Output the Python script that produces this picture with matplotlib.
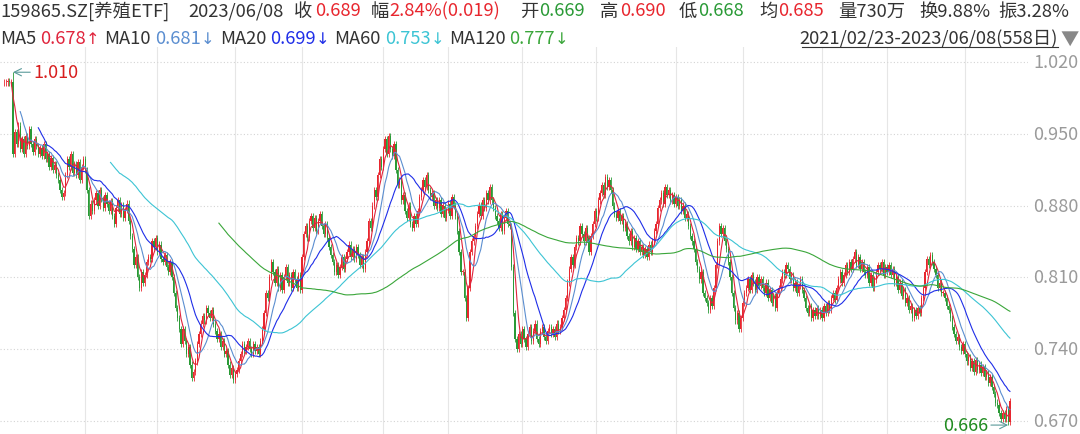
"""
159865.SZ daily K-line with moving averages
"""

import numpy as np
import pandas as pd
import matplotlib
matplotlib.use("Agg")
import matplotlib.pyplot as plt
import matplotlib.transforms as mtransforms

plt.rcParams['font.family'] = ['Noto Sans CJK SC', 'DejaVu Sans']

# ---------- Data ----------
# daily closes, 2021/02/23 .. 2023/06/08 (558 trading days)
closes = [
    1.000, 1.000, 1.001, 1.000, 1.000, 0.930, 0.952, 0.940, 0.958, 0.935,
    0.945, 0.930, 0.948, 0.938, 0.955, 0.940, 0.932, 0.945, 0.938, 0.930,
    0.936, 0.928, 0.940, 0.925, 0.930, 0.918, 0.926, 0.915, 0.920, 0.910,
    0.905, 0.895, 0.888, 0.892, 0.910, 0.925, 0.918, 0.930, 0.912, 0.920,
    0.910, 0.922, 0.905, 0.918, 0.925, 0.915, 0.895, 0.870, 0.882, 0.875,
    0.885, 0.892, 0.880, 0.895, 0.886, 0.878, 0.890, 0.882, 0.875, 0.884,
    0.870, 0.862, 0.878, 0.885, 0.872, 0.880, 0.868, 0.876, 0.882, 0.865,
    0.850, 0.838, 0.822, 0.830, 0.810, 0.800, 0.815, 0.805, 0.812, 0.825,
    0.830, 0.828, 0.845, 0.840, 0.848, 0.835, 0.842, 0.828, 0.825, 0.832,
    0.820, 0.815, 0.825, 0.810, 0.795, 0.780, 0.770, 0.760, 0.745, 0.760,
    0.748, 0.735, 0.742, 0.725, 0.712, 0.718, 0.728, 0.745, 0.755, 0.765,
    0.772, 0.768, 0.780, 0.775, 0.770, 0.778, 0.765, 0.758, 0.750, 0.755,
    0.742, 0.748, 0.735, 0.738, 0.725, 0.715, 0.722, 0.710, 0.716, 0.720,
    0.728, 0.735, 0.745, 0.738, 0.742, 0.748, 0.740, 0.735, 0.745, 0.738,
    0.742, 0.735, 0.748, 0.760, 0.775, 0.795, 0.790, 0.810, 0.825, 0.815,
    0.805, 0.818, 0.800, 0.812, 0.798, 0.810, 0.820, 0.805, 0.812, 0.800,
    0.815, 0.808, 0.800, 0.812, 0.798, 0.830, 0.852, 0.860, 0.848, 0.865,
    0.870, 0.858, 0.868, 0.855, 0.865, 0.872, 0.860, 0.852, 0.862, 0.848,
    0.840, 0.832, 0.825, 0.815, 0.822, 0.812, 0.820, 0.830, 0.818, 0.828,
    0.835, 0.842, 0.830, 0.838, 0.828, 0.840, 0.832, 0.822, 0.830, 0.818,
    0.835, 0.845, 0.865, 0.858, 0.880, 0.895, 0.888, 0.910, 0.925, 0.918,
    0.935, 0.945, 0.930, 0.948, 0.935, 0.928, 0.940, 0.915, 0.900, 0.905,
    0.885, 0.890, 0.875, 0.868, 0.880, 0.862, 0.858, 0.870, 0.862, 0.875,
    0.888, 0.895, 0.905, 0.898, 0.910, 0.895, 0.888, 0.892, 0.880, 0.885,
    0.878, 0.885, 0.872, 0.880, 0.868, 0.876, 0.882, 0.870, 0.888, 0.880,
    0.870, 0.855, 0.835, 0.815, 0.815, 0.790, 0.770, 0.800, 0.835, 0.845,
    0.850, 0.860, 0.872, 0.880, 0.870, 0.885, 0.878, 0.892, 0.885, 0.898,
    0.885, 0.878, 0.870, 0.865, 0.858, 0.872, 0.855, 0.868, 0.875, 0.862,
    0.860, 0.820, 0.775, 0.750, 0.740, 0.755, 0.745, 0.760, 0.750, 0.742,
    0.755, 0.762, 0.748, 0.758, 0.765, 0.750, 0.745, 0.758, 0.762, 0.752,
    0.748, 0.758, 0.762, 0.755, 0.760, 0.752, 0.765, 0.758, 0.762, 0.770,
    0.778, 0.790, 0.805, 0.818, 0.830, 0.822, 0.840, 0.848, 0.845, 0.860,
    0.852, 0.845, 0.858, 0.848, 0.835, 0.850, 0.862, 0.875, 0.868, 0.885,
    0.892, 0.900, 0.890, 0.908, 0.898, 0.905, 0.895, 0.880, 0.872, 0.868,
    0.875, 0.865, 0.870, 0.858, 0.862, 0.850, 0.845, 0.855, 0.840, 0.848,
    0.838, 0.845, 0.835, 0.840, 0.832, 0.838, 0.830, 0.842, 0.835, 0.845,
    0.855, 0.862, 0.878, 0.885, 0.892, 0.882, 0.898, 0.890, 0.895, 0.885,
    0.890, 0.882, 0.888, 0.880, 0.885, 0.875, 0.880, 0.868, 0.872, 0.860,
    0.850, 0.845, 0.838, 0.825, 0.818, 0.808, 0.815, 0.795, 0.790, 0.785,
    0.778, 0.790, 0.782, 0.800, 0.822, 0.845, 0.860, 0.852, 0.858, 0.845,
    0.838, 0.825, 0.810, 0.795, 0.780, 0.768, 0.775, 0.760, 0.770, 0.785,
    0.795, 0.800, 0.808, 0.798, 0.812, 0.805, 0.798, 0.810, 0.802, 0.808,
    0.800, 0.795, 0.805, 0.790, 0.798, 0.785, 0.792, 0.780, 0.795, 0.800,
    0.808, 0.815, 0.812, 0.822, 0.818, 0.808, 0.812, 0.800, 0.805, 0.795,
    0.802, 0.808, 0.798, 0.790, 0.780, 0.775, 0.782, 0.770, 0.778, 0.772,
    0.780, 0.772, 0.778, 0.770, 0.782, 0.775, 0.785, 0.778, 0.790, 0.795,
    0.788, 0.800, 0.808, 0.815, 0.805, 0.812, 0.822, 0.815, 0.825, 0.818,
    0.828, 0.835, 0.822, 0.830, 0.818, 0.825, 0.815, 0.812, 0.820, 0.805,
    0.812, 0.800, 0.808, 0.815, 0.822, 0.818, 0.825, 0.812, 0.820, 0.815,
    0.822, 0.812, 0.818, 0.805, 0.810, 0.798, 0.805, 0.792, 0.798, 0.785,
    0.790, 0.778, 0.782, 0.770, 0.778, 0.772, 0.780, 0.775, 0.790, 0.800,
    0.815, 0.828, 0.822, 0.832, 0.825, 0.818, 0.812, 0.800, 0.805, 0.795,
    0.795, 0.790, 0.782, 0.778, 0.770, 0.762, 0.755, 0.748, 0.752, 0.742,
    0.738, 0.745, 0.735, 0.728, 0.732, 0.722, 0.728, 0.718, 0.729, 0.720,
    0.725, 0.717, 0.723, 0.713, 0.717, 0.707, 0.713, 0.703, 0.696, 0.688,
    0.686, 0.678, 0.672, 0.678, 0.672, 0.682, 0.669, 0.689,
]
assert len(closes) == 558

period_high = 1.010   # marked high, day 5
period_low = 0.666    # marked low, day 556
high_day = 5
low_day = 556

ma_periods = [5, 10, 20, 60, 120]
ma_names = ["MA5", "MA10", "MA20", "MA60", "MA120"]
ma_values = ["0.678", "0.681", "0.699", "0.753", "0.777"]
ma_trend = ["↑", "↓", "↓", "↓", "↓"]

y_ticks = [0.670, 0.740, 0.810, 0.880, 0.950, 1.020]
month_lines = [45, 85, 128, 165, 210, 246, 287, 328, 372, 409, 453, 489, 532]

quote_labels = ["收", "幅", "开", "高", "低", "均"]
quote_values = ["0.689", "2.84%(0.019)", "0.669", "0.690", "0.668", "0.685"]
extra_fields = ["量730万", "换9.88%", "振3.28%"]
title_code = "159865.SZ[养殖ETF]"
title_date = "2023/06/08"
range_text = "2021/02/23-2023/06/08(558日)"

# ---------- Styles ----------
W, H = 1080, 435
RED = "#e8262e"
GREEN = "#2a9a36"
DARK = "#333333"
GREY = "#9a9a9a"
ma_colors = ["#e0243c", "#5b8ed0", "#1f2ee8", "#3cc4d4", "#3aa63a"]
quote_colors = [RED, RED, GREEN, RED, GREEN, RED]


def px(x, y):
    """pixel (from top-left) -> figure fraction"""
    return x / W, 1 - y / H


# ---------- Build OHLC ----------
c = np.array(closes)
o = np.concatenate([[c[0]], c[:-1]])
wick = 0.003
hi = np.maximum(o, c) + wick
lo = np.minimum(o, c) - wick
hi[high_day] = period_high
lo[low_day] = period_low
idx = np.arange(len(c))
up = c >= o

fig = plt.figure(figsize=(W / 100, H / 100), dpi=100)
fig.patch.set_facecolor("white")
ax = fig.add_axes([0, 0, 1028 / W, 1 - 48 / H])
ax.set_xlim(-2.2, 567)
ax.set_ylim(0.6573, 1.0346)
ax.axis("off")

for d in month_lines:
    ax.axvline(d, color="#e6e6e6", lw=0.8, zorder=0)
for t in y_ticks:
    ax.axhline(t, color="#d4d4d4", lw=0.8, ls=(0, (1, 2)), zorder=0)

cols = np.where(up, RED, GREEN)
ax.vlines(idx, lo, hi, colors=cols, lw=0.6, zorder=2)
ax.bar(idx, np.maximum(np.abs(c - o), 0.0008), bottom=np.minimum(o, c),
       width=0.7, color=cols, linewidth=0, zorder=2)

s = pd.Series(c)
for p, col in zip(ma_periods, ma_colors):
    ax.plot(idx, s.rolling(p).mean(), color=col, lw=0.8, zorder=3)

# extreme markers
ax.annotate(f"{period_high:.3f}", xy=(high_day, period_high), xytext=(20, 0),
            textcoords="offset pixels", va="center", ha="left", color="#d81e1e",
            fontsize=13,
            arrowprops=dict(arrowstyle="->", color="#5a9a9a", lw=0.8,
                            shrinkA=0, shrinkB=0))
ax.annotate(f"{period_low:.3f}", xy=(low_day, period_low), xytext=(-20, 0),
            textcoords="offset pixels", va="center", ha="right", color="#1e8a1e",
            fontsize=13,
            arrowprops=dict(arrowstyle="->", color="#5a9a9a", lw=0.8,
                            shrinkA=0, shrinkB=0))

# right price scale
trans = mtransforms.blended_transform_factory(fig.transFigure, ax.transData)
for t in y_ticks:
    ax.text(1033 / W, t, f"{t:.3f}", transform=trans, color=GREY,
            fontsize=13, va="center", ha="left", clip_on=False)

# ---------- Header ----------
fs = 13.2
base1, base2 = 16.5, 44.5
fig.text(*px(0, base1), title_code, color=DARK, fontsize=fs, va="baseline")
fig.text(*px(188, base1), title_date, color=DARK, fontsize=fs, va="baseline")
label_x = [294, 371, 520, 600, 679, 759]
value_x = [315, 389, 539, 620, 698, 778]
for lx, vx, lab, val, col in zip(label_x, value_x, quote_labels, quote_values, quote_colors):
    fig.text(*px(lx, base1), lab, color=DARK, fontsize=fs, va="baseline")
    fig.text(*px(vx, base1), val, color=col, fontsize=fs, va="baseline")
for ex, txt in zip([838, 919, 998], extra_fields):
    fig.text(*px(ex, base1), txt, color=DARK, fontsize=fs, va="baseline")

# MA legend line, laid out left to right
renderer = fig.canvas.get_renderer()


def put(x, text, color, **kw):
    t = fig.text(*px(x, base2), text, color=color, fontsize=kw.pop("size", fs),
                 va="baseline", **kw)
    return x + t.get_window_extent(renderer).width


x = 0
for nm, val, arr, col in zip(ma_names, ma_values, ma_trend, ma_colors):
    x = put(x, nm, DARK) + 4
    x = put(x, val, col)
    x = put(x, arr, col, size=fs - 1.5, family=["DejaVu Sans"]) + 5

fig.text(*px(1058, base2), range_text, color=DARK, fontsize=fs, va="baseline", ha="right")
fig.add_artist(plt.Line2D([802 / W, 1058 / W], [1 - 48 / H] * 2, color=DARK, lw=0.8))
fig.text(*px(1060, base2), "▼", color="#888888", fontsize=fs, va="baseline")

fig.savefig("out.png", dpi=100)
